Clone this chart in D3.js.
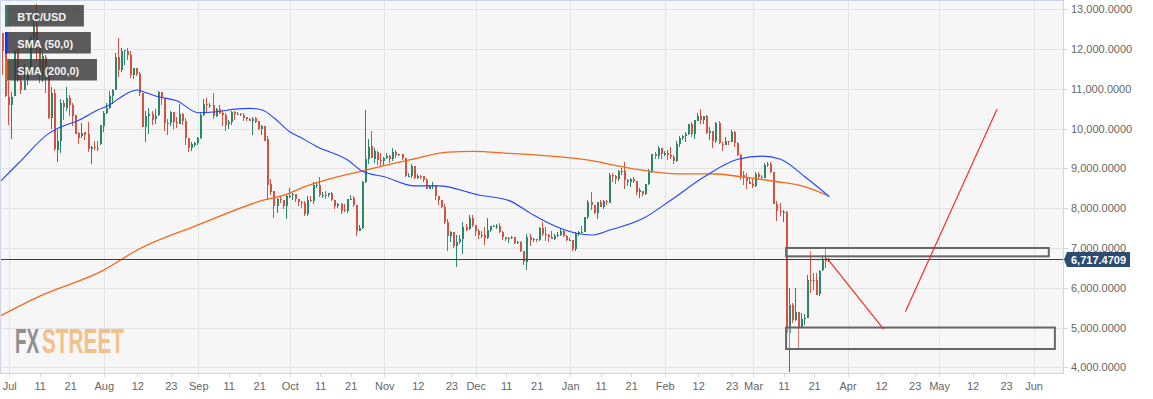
<!DOCTYPE html>
<html>
<head>
<meta charset="utf-8">
<script src="https://cdn.jsdelivr.net/npm/d3@7"></script>
<style>
  body { margin: 0; background: #fff; }
  text { font-family: "Liberation Sans", Arial, sans-serif; }
</style>
</head>
<body>
<svg id="chart"></svg>
<script>
// BTC/USD daily candles, first candle on firstDay, one per day
const firstDay = '2019-06-28'

const opens = [
  11162, 12407, 11931,
  10796, 10588, 10818, 11972, 11203, 10982, 11217, 11446, 12284, 12571, 12139, 11354, 11813, 11381, 10257, 10896, 9471, 9698, 10654, 10525, 10777, 10596, 10346, 9887, 9809, 9913, 9857, 9491, 9548, 9522, 9604,
  10077, 10402, 10519, 10822, 10960, 11811, 11476, 11954, 11953, 11861, 11349, 11529, 11385, 10889, 10039, 10319, 10358, 10233, 10350, 10916, 10764, 10142, 10136, 10407, 10160, 10127, 10372, 10203, 9756, 9515, 9597,
  9630, 9758, 10346, 10611, 10588, 10590, 10316, 10484, 10400, 10345, 10123, 10159, 10415, 10345, 10356, 10347, 10281, 10247, 10200, 10266, 10183, 9983, 10067, 9729, 8603, 8427, 8064, 8230, 8206, 8052,
  8299, 8344, 8351, 8224, 8155, 8124, 7866, 8210, 8173, 8585, 8586, 8315, 8336, 8320, 8373, 8204, 8047, 8100, 7956, 7933, 8226, 8244, 8084, 7420, 7490, 8667, 9241, 9565, 9249, 9422, 9202,
  9193, 9259, 9324, 9235, 9414, 9341, 9353, 9265, 8809, 8812, 9059, 8759, 8812, 8811, 8705, 8491, 8549, 8573, 8305, 8203, 8023, 7644, 7296, 7398, 7040, 7145, 7220, 7536, 7466, 7764,
  7571, 7424, 7323, 7320, 7253, 7450, 7548, 7551, 7561, 7398, 7278, 7216, 7244, 7276, 7124, 7153, 6932, 6647, 7277, 7208, 7220, 7191, 7508, 7354, 7325, 7274, 7238, 7289, 7317, 7421, 7294,
  7195, 7202, 6985, 7346, 7410, 7410, 7768, 8162, 8082, 7879, 8163, 8033, 8190, 8140, 8825, 8812, 8725, 8927, 8941, 8704, 8659, 8744, 8681, 8398, 8440, 8364, 8597, 8912, 9357, 9316, 9508,
  9346, 9389, 9345, 9293, 9183, 9617, 9756, 9809, 9863, 10115, 9855, 10203, 10323, 10211, 10313, 9889, 9936, 9691, 10143, 9611, 9599, 9687, 9663, 9921, 9651, 9344, 8825, 8788, 8671,
  8599, 8563, 8865, 8788, 8760, 9079, 9121, 8908, 8112, 7922, 7910, 7913, 4860, 5563, 5201, 5385, 5002, 5227, 5245, 6207, 6206, 6185, 5831, 6436, 6744, 6681
]

const highs = [
  12445, 12408, 12179,
  11206, 10912, 11968, 12007, 11395, 11620, 11541, 12345, 12779, 13129, 12144, 11905, 11841, 11451, 11052, 10996, 9963, 10736, 10716, 11048, 10837, 10657, 10346, 9908, 10154, 9916, 10167, 9575, 9681, 9701, 10085,
  10446, 10657, 10946, 11009, 11895, 12273, 12036, 11982, 12024, 11940, 11523, 11528, 11420, 10889, 10437, 10524, 10452, 10487, 10947, 10917, 10764, 10232, 10442, 10419, 10305, 10626, 10382, 10279, 9756, 9655, 9673,
  9796, 10396, 10736, 10771, 10645, 10900, 10524, 10595, 10475, 10387, 10215, 10450, 10441, 10419, 10387, 10386, 10296, 10275, 10295, 10285, 10188, 10083, 10074, 9805, 8744, 8428, 8268, 8317, 8216, 8323,
  8497, 8376, 8351, 8222, 8169, 8169, 8306, 8305, 8663, 8640, 8789, 8417, 8432, 8390, 8410, 8216, 8134, 8120, 8100, 8238, 8335, 8296, 8092, 7579, 8691, 10480, 9749, 9950, 9516, 9426, 9383,
  9275, 9376, 9345, 9505, 9458, 9375, 9366, 9272, 8891, 9103, 9066, 8853, 8830, 8812, 8769, 8591, 8650, 8573, 8305, 8200, 8110, 7729, 7420, 7410, 7320, 7320, 7655, 7615, 7836, 7836,
  7571, 7474, 7418, 7539, 7743, 7546, 7583, 7598, 7618, 7425, 7276, 7266, 7293, 7281, 7181, 7171, 6932, 7348, 7346, 7257, 7220, 7518, 7656, 7535, 7357, 7436, 7363, 7400, 7513, 7454, 7335,
  7255, 7213, 7413, 7428, 7545, 7782, 8197, 8396, 8082, 8166, 8218, 8197, 8197, 8879, 8890, 8846, 8958, 9012, 9164, 8745, 8755, 8792, 8684, 8515, 8444, 8602, 8977, 9371, 9406, 9553, 9521,
  9439, 9468, 9540, 9331, 9701, 9824, 9847, 9914, 10129, 10165, 10210, 10393, 10500, 10321, 10341, 10053, 9938, 10161, 10191, 9675, 9782, 9698, 9964, 9951, 9652, 9375, 8932, 8890, 8775,
  8727, 8921, 8900, 8843, 9142, 9167, 9163, 8914, 8178, 8136, 7950, 7929, 5990, 5625, 5990, 5385, 5371, 5331, 6329, 6930, 6378, 6359, 6443, 6830, 6990, 6760
]

const lows = [
  10914, 11348, 10799,
  10089, 9737, 10818, 11179, 10874, 10982, 11098, 11394, 12233, 11710, 11158, 11179, 10908, 10234, 9992, 9448, 9163, 9377, 10229, 10451, 10329, 10072, 9883, 9614, 9773, 9717, 9411, 9110, 9472, 9437, 9598,
  9922, 10371, 10503, 10620, 10960, 11291, 11433, 11599, 11724, 11265, 11248, 11321, 10830, 10029, 9675, 9856, 10086, 10119, 10330, 10600, 9941, 9831, 10078, 9982, 10009, 10127, 10087, 9601, 9421, 9428, 9531,
  9582, 9730, 10309, 10410, 10520, 10234, 10297, 10357, 10077, 9943, 9980, 10100, 10226, 10333, 10313, 10189, 10199, 10191, 9851, 10132, 9976, 9837, 9727, 8215, 8325, 7759, 7868, 8142, 7969, 7736,
  8263, 8200, 8147, 8060, 8010, 7803, 7797, 8150, 8118, 8497, 8276, 8266, 8222, 8284, 8182, 7985, 8000, 7846, 7902, 7874, 8210, 8038, 7300, 7448, 7479, 8644, 9112, 9256, 9140, 9085, 9028,
  9073, 9249, 9129, 9191, 9257, 9302, 9202, 8775, 8793, 8771, 8737, 8739, 8744, 8666, 8482, 8491, 8477, 8203, 8087, 8010, 7592, 6936, 7150, 6997, 6530, 7098, 6860, 7420, 7460, 7531,
  7291, 7233, 7250, 7071, 7232, 7392, 7527, 7474, 7365, 7213, 7177, 7118, 7226, 7102, 7090, 6903, 6577, 6440, 7040, 7138, 7149, 7167, 7313, 7174, 7150, 7234, 7189, 7288, 7306, 7276, 7169,
  7175, 6935, 6915, 7309, 7400, 7409, 7733, 7956, 7842, 7726, 8029, 7985, 8079, 8140, 8657, 8612, 8677, 8827, 8473, 8560, 8544, 8636, 8333, 8266, 8296, 8325, 8576, 8895, 9249, 9230, 9230,
  9306, 9217, 9248, 9112, 9163, 9539, 9726, 9671, 9850, 9784, 9729, 10202, 10116, 10125, 9874, 9722, 9507, 9632, 9611, 9427, 9587, 9598, 9658, 9537, 9305, 8704, 8577, 8475, 8599,
  8500, 8533, 8704, 8712, 8757, 9032, 8890, 8105, 7690, 7814, 7642, 4780, 3870, 5125, 5169, 4440, 4981, 5069, 5236, 5865, 5932, 5833, 5785, 6411, 6490, 6650
]

const closes = [
  12407, 11959, 10817,
  10583, 10801, 11961, 11215, 10978, 11208, 11451, 12285, 12573, 12157, 11358, 11815, 11393, 10257, 10896, 9478, 9691, 10638, 10532, 10760, 10587, 10325, 9855, 9772, 9882, 9847, 9478, 9531, 9529, 9501, 10084,
  10400, 10519, 10821, 10970, 11805, 11478, 11942, 11966, 11863, 11354, 11524, 11382, 10896, 10052, 10312, 10366, 10220, 10315, 10917, 10764, 10140, 10119, 10408, 10159, 10138, 10370, 10186, 9754, 9511, 9606, 9631,
  9758, 10347, 10624, 10595, 10589, 10323, 10487, 10404, 10340, 10100, 10161, 10418, 10361, 10358, 10347, 10277, 10242, 10199, 10230, 10169, 9987, 10059, 9701, 8587, 8413, 8061, 8224, 8202, 8050, 8306,
  8301, 8352, 8226, 8145, 8128, 7865, 8218, 8181, 8589, 8586, 8321, 8337, 8321, 8374, 8205, 8047, 8103, 7923, 7952, 8224, 8243, 8078, 7420, 7493, 8660, 9244, 9551, 9256, 9428, 9205, 9199,
  9261, 9324, 9235, 9413, 9342, 9360, 9267, 8804, 8813, 9055, 8757, 8815, 8809, 8708, 8491, 8550, 8577, 8309, 8206, 8027, 7642, 7296, 7397, 7047, 7146, 7218, 7531, 7463, 7761, 7569,
  7424, 7322, 7320, 7252, 7448, 7547, 7556, 7564, 7400, 7278, 7217, 7243, 7269, 7124, 7152, 6932, 6640, 7276, 7202, 7219, 7191, 7511, 7355, 7322, 7275, 7238, 7290, 7317, 7422, 7293, 7193,
  7200, 6985, 7345, 7410, 7411, 7769, 8163, 8080, 7879, 8166, 8037, 8193, 8145, 8828, 8808, 8723, 8930, 8943, 8707, 8657, 8745, 8680, 8406, 8445, 8368, 8597, 8910, 9358, 9316, 9508, 9351,
  9393, 9345, 9293, 9181, 9614, 9757, 9805, 9866, 10117, 9856, 10208, 10327, 10214, 10312, 9889, 9934, 9690, 10142, 9634, 9609, 9687, 9664, 9925, 9650, 9341, 8820, 8784, 8672, 8599,
  8563, 8869, 8787, 8755, 9078, 9122, 8909, 8108, 7923, 7909, 7911, 4860, 5563, 5200, 5392, 5014, 5225, 5238, 6191, 6198, 6185, 5830, 6416, 6734, 6681, 6717
]

const lastPrice = 6717.4709

// moving averages
const sma50Dates = ['2019-06-28', '2019-07-04', '2019-07-14', '2019-07-17', '2019-07-24', '2019-07-30', '2019-08-03', '2019-08-06', '2019-08-09', '2019-08-12', '2019-08-15', '2019-08-19', '2019-08-25', '2019-09-01', '2019-09-07', '2019-09-13', '2019-09-18', '2019-09-22', '2019-09-26', '2019-10-01', '2019-10-04', '2019-10-10', '2019-10-20', '2019-10-25', '2019-11-01', '2019-11-11', '2019-11-19', '2019-12-02', '2019-12-12', '2019-12-19', '2019-12-25', '2020-01-03', '2020-01-08', '2020-01-14', '2020-01-25', '2020-02-03', '2020-02-14', '2020-02-25', '2020-03-04', '2020-03-10', '2020-03-18', '2020-03-26']
const sma50Values = [8670, 9130, 9880, 10010, 10220, 10470, 10600, 10760, 10900, 10970, 10900, 10800, 10700, 10400, 10425, 10490, 10510, 10470, 10260, 9920, 9800, 9545, 9210, 8920, 8790, 8560, 8560, 8330, 8190, 7870, 7620, 7370, 7325, 7450, 7745, 8200, 8790, 9230, 9310, 9230, 8790, 8290]

const sma200Dates = ['2019-06-28', '2019-07-11', '2019-08-01', '2019-08-12', '2019-09-01', '2019-09-21', '2019-10-01', '2019-10-04', '2019-10-26', '2019-11-09', '2019-11-22', '2019-11-30', '2019-12-12', '2019-12-28', '2020-01-10', '2020-01-14', '2020-01-28', '2020-02-05', '2020-02-18', '2020-02-27', '2020-03-09', '2020-03-17', '2020-03-26']
const sma200Values = [5290, 5790, 6445, 6950, 7580, 8170, 8380, 8480, 8960, 9210, 9410, 9430, 9380, 9295, 9170, 9100, 8920, 8865, 8860, 8780, 8665, 8560, 8300]

// drawn zones and projection lines
const zoneStart = ['2020-03-11T20:00Z', '2020-03-11T20:00Z']
const zoneEnd = ['2020-06-06T00:00Z', '2020-06-08T00:00Z']
const zoneTop = [7000, 5000]
const zoneBottom = [6790, 4460]
const pathFrom = ['2020-03-25T16:30Z', '2020-04-19T23:00Z']
const pathTo = ['2020-04-12T21:00Z', '2020-05-20T00:00Z']
const pathFromPrice = [6700, 5398]
const pathToPrice = [4955, 10486]

// axes
const priceTicks = [4000, 5000, 6000, 7000, 8000, 9000, 10000, 11000, 12000, 13000]
const dateTicks = ['2019-07-01', '2019-07-11', '2019-07-21', '2019-08-01', '2019-08-12', '2019-08-23', '2019-09-01', '2019-09-11', '2019-09-21', '2019-10-01', '2019-10-11', '2019-10-21', '2019-11-01', '2019-11-12', '2019-11-23', '2019-12-01', '2019-12-11', '2019-12-21', '2020-01-01', '2020-01-11', '2020-01-21', '2020-02-01', '2020-02-12', '2020-02-23', '2020-03-01', '2020-03-11', '2020-03-21', '2020-04-01', '2020-04-12', '2020-04-23', '2020-05-01', '2020-05-12', '2020-05-23', '2020-06-01']
const dateLabels = ['Jul', '11', '21', 'Aug', '12', '23', 'Sep', '11', '21', 'Oct', '11', '21', 'Nov', '12', '23', 'Dec', '11', '21', 'Jan', '11', '21', 'Feb', '12', '23', 'Mar', '11', '21', 'Apr', '12', '23', 'May', '12', '23', 'Jun']

const legendLabels = ['BTC/USD', 'SMA (50,0)', 'SMA (200,0)']


const width = 1153
const height = 399
const plotW = 1063
const plotH = 373

const upColor = '#2a876c'
const downColor = '#d6513f'
const legendColors = [upColor, '#1230ff', '#e8650f']

const parseDay = d3.utcParse('%Y-%m-%d')

const candles = closes.map((c, i) => ({
  date: d3.utcDay.offset(parseDay(firstDay), i),
  o: opens[i], h: highs[i], l: lows[i], c: c
}))

const x = d3.scaleUtc()
  .domain([new Date(Date.UTC(2019, 5, 27, 23)), new Date(Date.UTC(2020, 5, 10, 16))])
  .range([0, plotW])

const y = d3.scaleLinear()
  .domain([3857, 13234])
  .range([plotH, 0])

const svg = d3.select('#chart')
  .attr('width', width)
  .attr('height', height)

svg.append('rect').attr('width', width).attr('height', height).attr('fill', '#fff')
svg.append('rect').attr('width', plotW).attr('height', plotH).attr('fill', '#f6f6f6')

svg.append('clipPath').attr('id', 'plot-clip')
  .append('rect').attr('width', plotW).attr('height', plotH)

// grid
const grid = svg.append('g')
  .attr('stroke', '#e3e3e3')
  .attr('shape-rendering', 'crispEdges')

grid.selectAll('.hgrid')
  .data(priceTicks)
  .join('line')
  .attr('class', 'hgrid')
  .attr('x1', 0).attr('x2', plotW)
  .attr('y1', d => Math.round(y(d)) + 0.5)
  .attr('y2', d => Math.round(y(d)) + 0.5)

const monthTicks = dateTicks.filter((d, i) => isNaN(+dateLabels[i]))

grid.selectAll('.vgrid')
  .data(monthTicks)
  .join('line')
  .attr('class', 'vgrid')
  .attr('y1', 0).attr('y2', plotH)
  .attr('x1', d => Math.round(x(parseDay(d))) + 0.5)
  .attr('x2', d => Math.round(x(parseDay(d))) + 0.5)

// watermark, squeezed horizontally like the condensed logo
function logoWord(word, left, boxWidth, color) {
  const t = svg.append('text')
    .attr('font-weight', 'bold')
    .attr('font-size', 35)
    .attr('fill', color)
    .text(word)
  const sx = boxWidth / t.node().getComputedTextLength()
  t.attr('transform', `translate(${left},353) scale(${sx},1)`)
}
logoWord('FX', 15, 24, '#8e8f93')
logoWord('STREET', 42, 82, '#f2c189')

// candles
const plotArea = svg.append('g').attr('clip-path', 'url(#plot-clip)')

const candle = plotArea.append('g')
  .attr('shape-rendering', 'crispEdges')
  .selectAll('g')
  .data(candles)
  .join('g')
  .attr('fill', d => d.c >= d.o ? upColor : downColor)

candle.append('rect')
  .attr('x', d => Math.round(x(d.date)) - 1)
  .attr('width', 1)
  .attr('y', d => y(d.h))
  .attr('height', d => Math.max(1, y(d.l) - y(d.h)))

candle.append('rect')
  .attr('x', d => Math.round(x(d.date)) - 1)
  .attr('width', 2)
  .attr('y', d => y(Math.max(d.o, d.c)))
  .attr('height', d => Math.max(1, Math.abs(y(d.o) - y(d.c))))

// moving averages
const smaLine = d3.line()
  .x(d => x(d.date))
  .y(d => y(d.value))
  .curve(d3.curveMonotoneX)

const sma200 = sma200Dates.map((d, i) => ({ date: parseDay(d), value: sma200Values[i] }))
const sma50 = sma50Dates.map((d, i) => ({ date: parseDay(d), value: sma50Values[i] }))

plotArea.append('path')
  .datum(sma200)
  .attr('d', smaLine)
  .attr('fill', 'none')
  .attr('stroke', '#f26a1b')
  .attr('stroke-width', 1.3)

plotArea.append('path')
  .datum(sma50)
  .attr('d', smaLine)
  .attr('fill', 'none')
  .attr('stroke', '#2244ff')
  .attr('stroke-width', 1.1)

// current price line
plotArea.append('line')
  .attr('x1', 0).attr('x2', plotW)
  .attr('y1', Math.round(y(lastPrice)) + 0.5)
  .attr('y2', Math.round(y(lastPrice)) + 0.5)
  .attr('stroke', '#2c3f5e')
  .attr('shape-rendering', 'crispEdges')

// zones
plotArea.selectAll('.zone')
  .data(zoneTop)
  .join('rect')
  .attr('class', 'zone')
  .attr('x', (d, i) => x(d3.isoParse(zoneStart[i])))
  .attr('width', (d, i) => x(d3.isoParse(zoneEnd[i])) - x(d3.isoParse(zoneStart[i])))
  .attr('y', d => y(d))
  .attr('height', (d, i) => y(zoneBottom[i]) - y(d))
  .attr('fill', 'rgba(255,255,255,0.25)')
  .attr('stroke', '#676767')
  .attr('stroke-width', 2)

// projection lines
plotArea.selectAll('.path-line')
  .data(pathFrom)
  .join('line')
  .attr('class', 'path-line')
  .attr('x1', d => x(d3.isoParse(d)))
  .attr('y1', (d, i) => y(pathFromPrice[i]))
  .attr('x2', (d, i) => x(d3.isoParse(pathTo[i])))
  .attr('y2', (d, i) => y(pathToPrice[i]))
  .attr('stroke', '#ff1f1f')
  .attr('stroke-width', 1.1)

// plot border
svg.append('rect')
  .attr('x', 0.5).attr('y', 0.5)
  .attr('width', plotW - 0.5).attr('height', plotH - 0.5)
  .attr('fill', 'none')
  .attr('stroke', '#ccd6eb')
  .attr('shape-rendering', 'crispEdges')

// axes
const xAxis = svg.append('g')
  .attr('transform', `translate(0,${plotH})`)
  .call(d3.axisBottom(x)
    .tickValues(dateTicks.map(parseDay))
    .tickFormat((d, i) => dateLabels[i])
    .tickSize(4)
    .tickPadding(5))

const yAxis = svg.append('g')
  .attr('transform', `translate(${plotW},0)`)
  .call(d3.axisRight(y)
    .tickValues(priceTicks)
    .tickFormat(d3.format(',.4f'))
    .tickSize(5)
    .tickPadding(3))

for (const ax of [xAxis, yAxis]) {
  ax.select('.domain').remove()
  ax.selectAll('.tick line').attr('stroke', '#ccd6eb').attr('shape-rendering', 'crispEdges')
  ax.selectAll('.tick text')
    .attr('fill', '#666')
    .attr('font-size', 11)
    .attr('font-family', '"Liberation Sans", Arial, sans-serif')
}

// last price tag
const py = Math.round(y(lastPrice)) + 0.5
svg.append('path')
  .attr('d', `M${plotW + 1},${py} L${plotW + 4},${py - 7.5} H1130 V${py + 7.5} H${plotW + 4} Z`)
  .attr('fill', '#2d4a6f')

svg.append('text')
  .attr('x', 1071).attr('y', py + 4)
  .attr('fill', '#fff')
  .attr('font-size', 11)
  .attr('font-weight', 'bold')
  .text(d3.format(',.4f')(lastPrice))

// legend
const legend = svg.append('g')
  .selectAll('g')
  .data(legendLabels)
  .join('g')
  .attr('transform', (d, i) => `translate(5,${5 + i * 27})`)

const legendBg = legend.append('rect')
  .attr('height', 21.5)
  .attr('fill', '#333')
  .attr('fill-opacity', 0.8)

legend.append('rect')
  .attr('width', 2.5)
  .attr('height', 21.5)
  .attr('fill', (d, i) => legendColors[i])

legend.append('text')
  .attr('x', 12.3)
  .attr('y', 15.5)
  .attr('fill', '#f2f2f2')
  .attr('font-size', 11)
  .attr('font-weight', 'bold')
  .text(d => d)

legendBg.attr('width', function () {
  const t = this.parentNode.querySelector('text')
  return t.getComputedTextLength() + 30
})
</script>
</body>
</html>
